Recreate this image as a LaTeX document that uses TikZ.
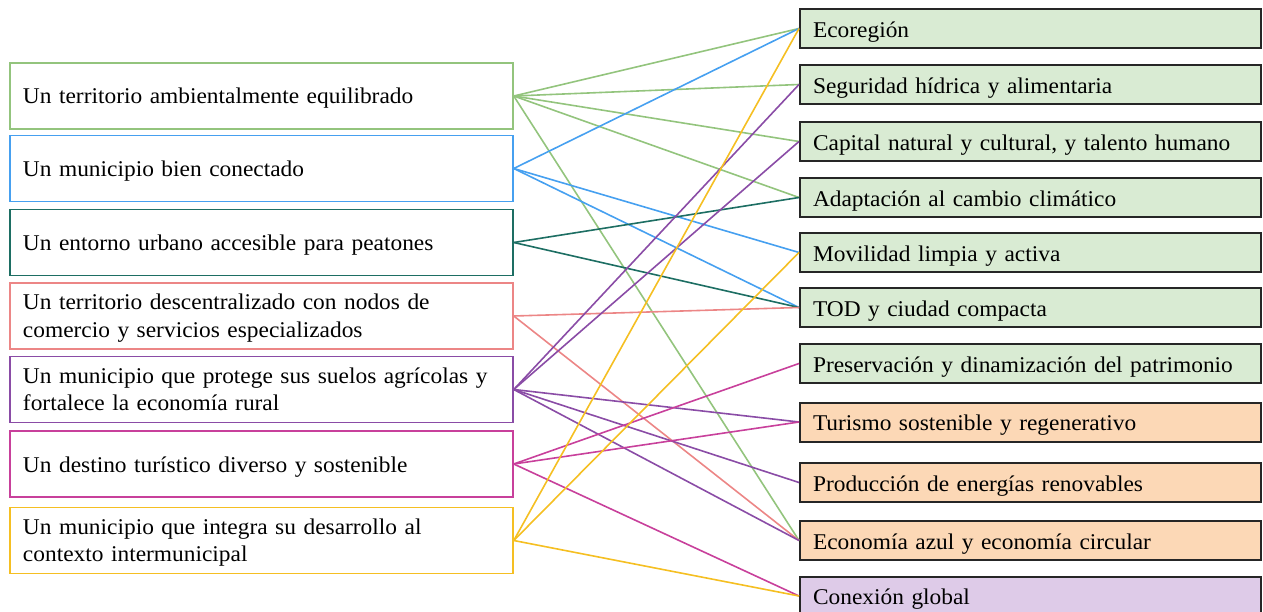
\documentclass[tikz,border=0pt]{standalone}
\usepackage{fontspec}
\setmainfont{Liberation Serif}[WordSpace=1.7,FakeStretch=1.04]
\definecolor{cgreen}{HTML}{93C47D}
\definecolor{cblue}{HTML}{46A0F0}
\definecolor{cteal}{HTML}{1D6E63}
\definecolor{cpink}{HTML}{EC8686}
\definecolor{cpurple}{HTML}{8A4CA6}
\definecolor{cmagenta}{HTML}{C8409B}
\definecolor{cgold}{HTML}{F5BF22}
\definecolor{fgreen}{HTML}{D9EBD3}
\definecolor{forange}{HTML}{FCD8B6}
\definecolor{fpurple}{HTML}{DECBE8}
\definecolor{rborder}{HTML}{262626}
\tikzset{
  lbox/.style={draw, line width=1.5pt, minimum height=66pt, text width=477pt, inner xsep=13pt, inner ysep=0pt, align=left},
  lone/.style={lbox, text height=21pt, text depth=5pt},
  ltwo/.style={lbox, text height=17.5pt, text depth=30.5pt},
  rbox/.style={draw=rborder, line width=2pt, minimum height=39pt, text width=435pt, inner xsep=13pt, inner ysep=0pt, align=left, text height=22pt, text depth=4.4pt},
  link/.style={line width=1.6pt}
}
\begin{document}
\begin{tikzpicture}[x=1pt,y=-1pt,font=\fontsize{22.5}{27.5}\selectfont]
\clip (0,0) rectangle (1263,612);
% left boxes
\node[lone, draw=cgreen]   (l1) at (261.5,96)    {Un territorio ambientalmente equilibrado};
\node[lone, draw=cblue]    (l2) at (261.5,168.5) {Un municipio bien conectado};
\node[lone, draw=cteal]    (l3) at (261.5,242.5) {Un entorno urbano accesible para peatones};
\node[ltwo, draw=cpink]    (l4) at (261.5,316)   {\mbox{Un territorio descentralizado con nodos de}\\\mbox{comercio y servicios especializados}};
\node[ltwo, draw=cpurple]  (l5) at (261.5,389.5) {\mbox{Un municipio que protege sus suelos agrícolas y}\\\mbox{fortalece la economía rural}};
\node[lone, draw=cmagenta] (l6) at (261.5,464)   {Un destino turístico diverso y sostenible};
\node[ltwo, draw=cgold]    (l7) at (261.5,540.5) {\mbox{Un municipio que integra su desarrollo al}\\\mbox{contexto intermunicipal}};
% right boxes
\node[rbox, fill=fgreen]  (r1)  at (1030.5,28.5)  {Ecoregión};
\node[rbox, fill=fgreen]  (r2)  at (1030.5,84.5)  {Seguridad hídrica y alimentaria};
\node[rbox, fill=fgreen]  (r3)  at (1030.5,141.5) {Capital natural y cultural, y talento humano};
\node[rbox, fill=fgreen]  (r4)  at (1030.5,197.5) {Adaptación al cambio climático};
\node[rbox, fill=fgreen]  (r5)  at (1030.5,252.5) {Movilidad limpia y activa};
\node[rbox, fill=fgreen]  (r6)  at (1030.5,307.5) {TOD y ciudad compacta};
\node[rbox, fill=fgreen]  (r7)  at (1030.5,363.5) {Preservación y dinamización del patrimonio};
\node[rbox, fill=forange] (r8)  at (1030.5,422)   {Turismo sostenible y regenerativo};
\node[rbox, fill=forange] (r9)  at (1030.5,482.5) {Producción de energías renovables};
\node[rbox, fill=forange] (r10) at (1030.5,540.5) {Economía azul y economía circular};
\node[rbox, fill=fpurple] (r11) at (1030.5,596)   {Conexión global};
% connectors
\foreach \r in {r1,r2,r3,r4,r10} \draw[link, cgreen] (l1.east) -- (\r.west);
\foreach \r in {r1,r5,r6} \draw[link, cblue] (l2.east) -- (\r.west);
\foreach \r in {r4,r6} \draw[link, cteal] (l3.east) -- (\r.west);
\foreach \r in {r6,r10} \draw[link, cpink] (l4.east) -- (\r.west);
\foreach \r in {r2,r3,r8,r9,r10} \draw[link, cpurple] (l5.east) -- (\r.west);
\foreach \r in {r7,r8,r11} \draw[link, cmagenta] (l6.east) -- (\r.west);
\foreach \r in {r1,r5,r11} \draw[link, cgold] (l7.east) -- (\r.west);
\end{tikzpicture}
\end{document}
